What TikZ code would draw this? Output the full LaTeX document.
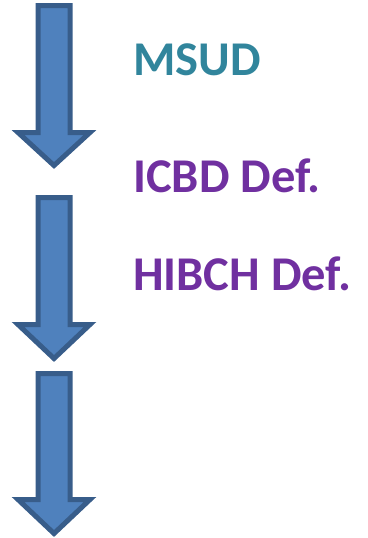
\documentclass[tikz,border=0pt]{standalone}
\usepackage{fontspec}
\setmainfont{Carlito}
\usetikzlibrary{positioning}

\definecolor{arrowfill}{HTML}{4F81BD}
\definecolor{arrowline}{HTML}{385D8A}
\definecolor{msudteal}{HTML}{31859C}
\definecolor{defpurple}{HTML}{7030A0}

\tikzset{
  flowarrow/.style={draw=arrowline, fill=arrowfill, line width=5pt, miter limit=10},
  disease/.style={anchor=base west, inner sep=0pt, font=\fontsize{48.5}{52}\selectfont\bfseries}
}

\begin{document}
\begin{tikzpicture}[x=1pt, y=-1pt]
\useasboundingbox (0,0) rectangle (367,538);

% the three down arrows: top / head / tip
\foreach \t/\h/\e in {5.5/132.5/165.5, 197.5/324.5/358.5, 373.5/499.5/533.5}{
  \draw[flowarrow] (38,\t) -- (70,\t) -- (70,\h) -- (90,\h) -- (54,\e) -- (18,\h) -- (38,\h) -- cycle;
}

\node[disease, text=msudteal] (msud) at (133,75) {MSUD};
\node[disease, text=defpurple] (icbd) at (133,192) {ICBD Def.};
\node[disease, text=defpurple] (hibch) at (133,290) {HIBCH Def.};

\end{tikzpicture}
\end{document}
